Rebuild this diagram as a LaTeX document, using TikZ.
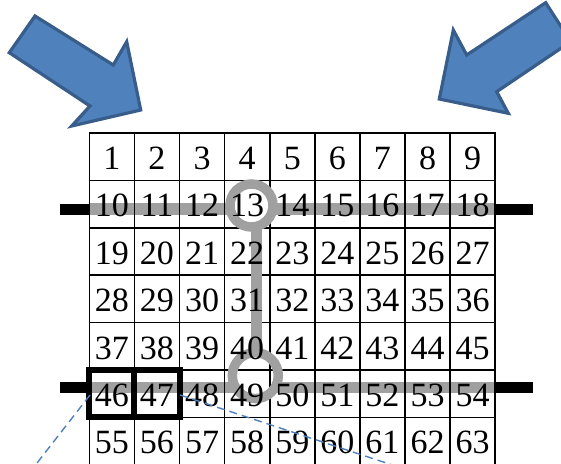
\documentclass[tikz,border=0pt]{standalone}
\usepackage{fontspec}
\setmainfont{Liberation Serif}
\definecolor{arrowfill}{HTML}{4F81BD}
\definecolor{arrowline}{HTML}{385D8A}
\definecolor{bandgray}{HTML}{A0A0A0}
\definecolor{zoomblue}{HTML}{4F81BD}
\tikzset{
  cellbox/.style={draw=black, line width=1.6pt, rectangle, inner sep=0pt,
    minimum width=45.1pt, minimum height=47.4pt},
  numtext/.style={inner sep=0pt, anchor=base, font=\fontsize{34}{34}\selectfont},
  bandline/.style={draw=bandgray, line width=11.5pt},
  blackbar/.style={draw=black, line width=11pt},
  ringline/.style={draw=bandgray, line width=9.5pt},
  selbox/.style={draw=black, line width=6pt},
  zoomline/.style={draw=zoomblue, line width=1.4pt, dash pattern=on 8pt off 5pt},
  blockarrow/.style={fill=arrowfill, draw=arrowline, line width=3.2pt, line join=miter}
}
\begin{document}
\begin{tikzpicture}[x=1pt,y=-1pt]
\useasboundingbox (0,0) rectangle (561,463);
\clip (0,0) rectangle (561,463);
% gray bands (under the grid)
\draw[bandline] (89.3,209) -- (230.3,209);
\draw[bandline] (272.7,209) -- (495.2,209);
\draw[bandline] (89.3,387.5) -- (235.6,387.5);
\draw[bandline] (275,387.5) -- (495.2,387.5);
% grid cells
\foreach \r in {0,...,6} {
  \foreach \c in {0,...,8} {
    \pgfmathtruncatemacro{\n}{9*\r+\c+1}
    \node[cellbox] (c\n) at ({89.3+45.1*\c+22.55},{133+47.4*\r+23.7}) {};
  }
}
% black bars
\draw[blackbar] (60,209.5) -- (89.3,209.5);
\draw[blackbar] (495.2,209.5) -- (533,209.5);
\draw[blackbar] (60,387.5) -- (89.3,387.5);
\draw[blackbar] (495.2,387.5) -- (533,387.5);
% rings and vertical connector
\node[circle, ringline, minimum size=43pt, inner sep=0pt] (ringA) at (251.5,205.5) {};
\node[circle, ringline, minimum size=46pt, inner sep=0pt] (ringB) at (255.3,375.6) {};
\draw[bandgray, line width=11pt] (256,225) -- (256,354);
% selected cells
\node[selbox, rectangle, minimum width=45.1pt, minimum height=47.4pt, inner sep=0pt] (s46) at (c46.center) {};
\node[selbox, rectangle, minimum width=45.1pt, minimum height=47.4pt, inner sep=0pt] (s47) at (c47.center) {};
% numbers
\foreach \r in {0,...,6} {
  \foreach \c in {0,...,8} {
    \pgfmathtruncatemacro{\n}{9*\r+\c+1}
    \node[numtext] (t\n) at ({89.3+45.1*\c+22.55},{133+47.4*\r+36.5}) {\n};
  }
}
% zoom lines
\coordinate (zl0) at (90,395);
\coordinate (zl1) at (16,490);
\coordinate (zr0) at (180,395);
\coordinate (zr1) at (444,482);
\draw[zoomline] (zl0) -- (zl1);
\draw[zoomline] (zr0) -- (zr1);
% block arrows
\draw[blockarrow] (35,16) -- (113.3,65) -- (126.7,41.7) -- (140.7,110) -- (71.7,126) -- (90,106) -- (9.3,52.7) -- cycle;
\draw[blockarrow] (545.7,2.7) -- (466.7,55) -- (453.3,30) -- (439.3,99) -- (508.3,113.3) -- (496.7,91.7) -- (570.7,41.7) -- cycle;
\end{tikzpicture}
\end{document}
